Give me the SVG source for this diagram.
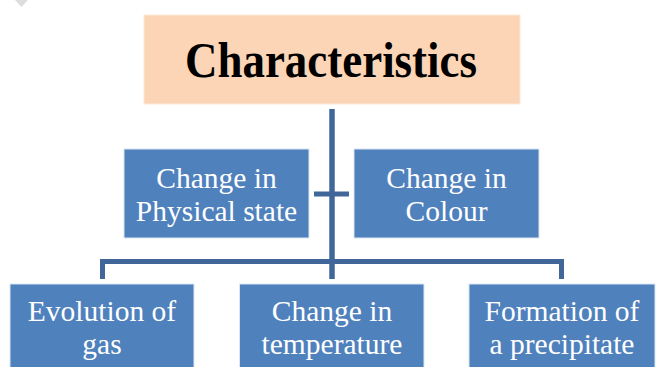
<svg xmlns="http://www.w3.org/2000/svg" width="656" height="367" viewBox="0 0 656 367">
<style>
.box{fill:#4F81BD;stroke:#DCE6F2;stroke-width:1}
.lbl{font-family:"Liberation Serif","Times New Roman",serif;font-size:29.5px;fill:#FFFFFF;text-anchor:middle}
.conn{fill:none;stroke:#41679A;stroke-linecap:butt;stroke-linejoin:miter}
</style>
<rect width="656" height="367" fill="#FFFFFF"/>
<polygon points="15,0 28,0 21.5,7" fill="#DDDDDD"/>
<g id="connectors">
<path class="conn" d="M332 109 V279" stroke-width="5.5"/>
<path class="conn" d="M314 194 H349" stroke-width="5"/>
<path class="conn" d="M102.5 279 V261.5 H561.5 V279" stroke-width="5"/>
</g>
<g id="characteristics">
<rect x="144" y="15" width="376" height="89" fill="#FBD5B5" stroke="#FDE9D9" stroke-width="1"/>
<text x="331" y="77" font-family="'Liberation Serif','Times New Roman',serif" font-size="50" font-weight="bold" fill="#000000" text-anchor="middle" textLength="292" lengthAdjust="spacingAndGlyphs">Characteristics</text>
</g>
<g id="physical-state">
<rect class="box" x="124" y="149" width="185" height="89"/>
<text class="lbl" x="216.5" y="187.5">Change in</text>
<text class="lbl" x="216.5" y="220.5">Physical state</text>
</g>
<g id="colour">
<rect class="box" x="354" y="149" width="185" height="89"/>
<text class="lbl" x="446.5" y="187.5">Change in</text>
<text class="lbl" x="446.5" y="220.5">Colour</text>
</g>
<g id="evolution-gas">
<rect class="box" x="10" y="284" width="184" height="90"/>
<text class="lbl" x="102" y="320.5">Evolution of</text>
<text class="lbl" x="102" y="353.5">gas</text>
</g>
<g id="temperature">
<rect class="box" x="239.5" y="284" width="184.5" height="90"/>
<text class="lbl" x="332" y="320.5">Change in</text>
<text class="lbl" x="332" y="353.5">temperature</text>
</g>
<g id="precipitate">
<rect class="box" x="469" y="284" width="186" height="90"/>
<text class="lbl" x="562" y="320.5">Formation of</text>
<text class="lbl" x="562" y="353.5">a precipitate</text>
</g>
</svg>
